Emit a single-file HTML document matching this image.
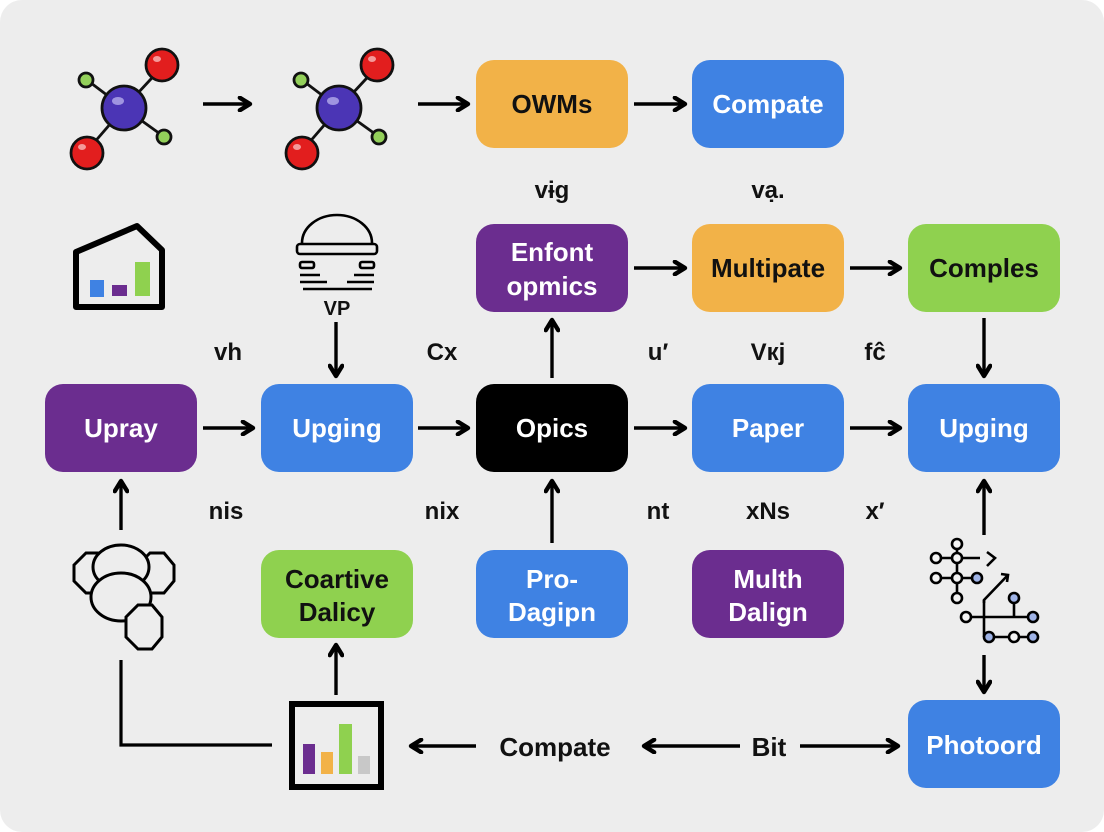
<!DOCTYPE html>
<html><head><meta charset="utf-8"><style>
html,body{margin:0;padding:0;background:#fff;}
svg{display:block;}
text{font-family:"Liberation Sans","DejaVu Sans",sans-serif;font-weight:bold;}
</style></head><body>
<svg width="1104" height="832" viewBox="0 0 1104 832" xmlns="http://www.w3.org/2000/svg">
<defs>
<marker id="ah" viewBox="0 0 10 10" refX="8" refY="5" markerWidth="4.6" markerHeight="4.6" orient="auto-start-reverse">
<path d="M1.5,1 L8,5 L1.5,9" fill="none" stroke="#000" stroke-width="2.8" stroke-linecap="round" stroke-linejoin="round"/>
</marker>
</defs>
<rect x="0" y="0" width="1104" height="832" rx="22" fill="#ededed"/>
<g stroke="#000" stroke-width="3.4" fill="none" marker-end="url(#ah)">
<line x1="203" y1="104" x2="250" y2="104"/>
<line x1="418" y1="104" x2="468" y2="104"/>
<line x1="634" y1="104" x2="685" y2="104"/>
<line x1="634" y1="268" x2="685" y2="268"/>
<line x1="850" y1="268" x2="900" y2="268"/>
<line x1="984" y1="318" x2="984" y2="376"/>
<line x1="336" y1="322" x2="336" y2="376"/>
<line x1="203" y1="428" x2="253" y2="428"/>
<line x1="418" y1="428" x2="468" y2="428"/>
<line x1="634" y1="428" x2="685" y2="428"/>
<line x1="850" y1="428" x2="900" y2="428"/>
<line x1="552" y1="378" x2="552" y2="320"/>
<line x1="552" y1="543" x2="552" y2="481"/>
<line x1="984" y1="535" x2="984" y2="481"/>
<line x1="984" y1="655" x2="984" y2="692"/>
<line x1="121" y1="530" x2="121" y2="481"/>
<line x1="336" y1="695" x2="336" y2="645"/>
<line x1="476" y1="746" x2="411" y2="746"/>
<line x1="740" y1="746" x2="644" y2="746"/>
<line x1="800" y1="746" x2="898" y2="746"/>
</g>
<polyline points="121,660 121,745 272,745" stroke="#000" stroke-width="3.2" fill="none"/>
<g>
<rect x="476" y="60" width="152" height="88" rx="18" fill="#f2b248"/>
<rect x="692" y="60" width="152" height="88" rx="18" fill="#3f82e3"/>
<rect x="476" y="224" width="152" height="88" rx="18" fill="#6b2d8f"/>
<rect x="692" y="224" width="152" height="88" rx="18" fill="#f2b248"/>
<rect x="908" y="224" width="152" height="88" rx="18" fill="#8fd14f"/>
<rect x="45" y="384" width="152" height="88" rx="18" fill="#6b2d8f"/>
<rect x="261" y="384" width="152" height="88" rx="18" fill="#3f82e3"/>
<rect x="476" y="384" width="152" height="88" rx="18" fill="#000"/>
<rect x="692" y="384" width="152" height="88" rx="18" fill="#3f82e3"/>
<rect x="908" y="384" width="152" height="88" rx="18" fill="#3f82e3"/>
<rect x="261" y="550" width="152" height="88" rx="18" fill="#8fd14f"/>
<rect x="476" y="550" width="152" height="88" rx="18" fill="#3f82e3"/>
<rect x="692" y="550" width="152" height="88" rx="18" fill="#6b2d8f"/>
<rect x="908" y="700" width="152" height="88" rx="18" fill="#3f82e3"/>
</g>
<g font-size="26" text-anchor="middle">
<text x="552" y="113" fill="#111">OWMs</text>
<text x="768" y="113" fill="#fff">Compate</text>
<text x="552" y="261" fill="#fff">Enfont</text>
<text x="552" y="295" fill="#fff">opmics</text>
<text x="768" y="277" fill="#111">Multipate</text>
<text x="984" y="277" fill="#111">Comples</text>
<text x="121" y="437" fill="#fff">Upray</text>
<text x="337" y="437" fill="#fff">Upging</text>
<text x="552" y="437" fill="#fff">Opics</text>
<text x="768" y="437" fill="#fff">Paper</text>
<text x="984" y="437" fill="#fff">Upging</text>
<text x="337" y="588" fill="#111">Coartive</text>
<text x="337" y="621" fill="#111">Dalicy</text>
<text x="552" y="588" fill="#fff">Pro-</text>
<text x="552" y="621" fill="#fff">Dagipn</text>
<text x="768" y="588" fill="#fff">Multh</text>
<text x="768" y="621" fill="#fff">Dalign</text>
<text x="984" y="754" fill="#fff">Photoord</text>
<text x="555" y="756" fill="#111">Compate</text>
<text x="769" y="756" fill="#111">Bit</text>
</g>
<g font-size="24" text-anchor="middle" fill="#111">
<text x="552" y="198">vɨg</text>
<text x="768" y="198">vạ.</text>
<text x="228" y="360">vh</text>
<text x="442" y="360">Cx</text>
<text x="658" y="360">u′</text>
<text x="768" y="360">Vкj</text>
<text x="875" y="360">fĉ</text>
<text x="226" y="519">nis</text>
<text x="442" y="519">nix</text>
<text x="658" y="519">nt</text>
<text x="768" y="519">xNs</text>
<text x="875" y="519">x′</text>
<text x="337" y="315" font-size="20">VP</text>
</g>
<g id="mol" stroke="#111" stroke-width="2.8">
<line x1="124" y1="108" x2="87" y2="80"/><line x1="124" y1="108" x2="163" y2="66"/>
<line x1="124" y1="108" x2="86" y2="152"/><line x1="124" y1="108" x2="163" y2="136"/>
<circle cx="124" cy="108" r="22" fill="#4b35b5"/>
<circle cx="162" cy="65" r="16" fill="#e21e1e"/>
<circle cx="87" cy="153" r="16" fill="#e21e1e"/>
<circle cx="86" cy="80" r="7" fill="#93d05a"/>
<circle cx="164" cy="137" r="7" fill="#93d05a"/>
<ellipse cx="118" cy="101" rx="6" ry="4" fill="#9f94e0" stroke="none"/>
<ellipse cx="157" cy="59" rx="4" ry="3" fill="#f49a9a" stroke="none"/>
<ellipse cx="82" cy="147" rx="4" ry="3" fill="#f49a9a" stroke="none"/>
</g>
<use href="#mol" x="215" y="0"/>
<path d="M76,252 L137,226 L162,250 L162,307 L76,307 Z" fill="none" stroke="#000" stroke-width="6" stroke-linejoin="round"/>
<rect x="90" y="280" width="14" height="17" fill="#3f82e3"/>
<rect x="112" y="285" width="15" height="11" fill="#6b2d8f"/>
<rect x="135" y="262" width="15" height="34" fill="#8fd14f"/>
<g stroke="#000" stroke-width="2.6" fill="none">
<path d="M302,243 A35,28 0 0 1 372,243"/>
<rect x="297" y="244" width="80" height="10" rx="3"/>
<rect x="300" y="262" width="14" height="6" rx="2"/><rect x="360" y="262" width="14" height="6" rx="2"/>
<line x1="300" y1="275" x2="320" y2="275"/><line x1="354" y1="275" x2="374" y2="275"/>
<line x1="300" y1="282" x2="327" y2="282"/><line x1="347" y1="282" x2="374" y2="282"/>
<line x1="303" y1="289" x2="372" y2="289"/>
</g>
<g stroke="#000" stroke-width="3" fill="#ededed">
<polygon points="74,565 86,553 100,553 112,565 112,581 100,593 86,593 74,581"/>
<polygon points="138,565 150,553 164,553 174,565 174,581 164,593 150,593 138,581"/>
<ellipse cx="121" cy="567" rx="28" ry="22"/>
<ellipse cx="121" cy="597" rx="30" ry="24"/>
<polygon points="126,617 138,605 152,605 162,617 162,637 152,649 138,649 126,637"/>
</g>
<rect x="292" y="704" width="89" height="83" fill="#ededed" stroke="#000" stroke-width="6"/>
<rect x="303" y="744" width="12" height="30" fill="#6b2d8f"/>
<rect x="321" y="752" width="12" height="22" fill="#f2b248"/>
<rect x="339" y="724" width="13" height="50" fill="#8fd14f"/>
<rect x="358" y="756" width="12" height="18" fill="#c8c8c8"/>
<g stroke="#000" stroke-width="2.6" fill="#f4f4f4">
<line x1="935" y1="558" x2="980" y2="558"/><line x1="935" y1="578" x2="977" y2="578"/>
<line x1="957" y1="544" x2="957" y2="598"/>
<polyline points="987,552 995,558 987,566" fill="none"/>
<polyline points="984,603 984,600 1008,575" fill="none"/>
<polyline points="1001,574 1008,575 1007,582" fill="none"/>
<line x1="984" y1="600" x2="984" y2="637"/>
<line x1="966" y1="617" x2="1033" y2="617"/>
<line x1="989" y1="637" x2="1033" y2="637"/>
<line x1="1014" y1="598" x2="1014" y2="617"/>
<circle cx="957" cy="544" r="5"/><circle cx="936" cy="558" r="5"/><circle cx="957" cy="558" r="5"/>
<circle cx="936" cy="578" r="5"/><circle cx="957" cy="578" r="5"/><circle cx="977" cy="578" r="5" fill="#9fb3e6"/>
<circle cx="957" cy="598" r="5"/>
<circle cx="1014" cy="598" r="5" fill="#9fb3e6"/><circle cx="966" cy="617" r="5"/><circle cx="1033" cy="617" r="5" fill="#9fb3e6"/>
<circle cx="989" cy="637" r="5" fill="#9fb3e6"/><circle cx="1014" cy="637" r="5"/><circle cx="1033" cy="637" r="5" fill="#9fb3e6"/>
</g>
</svg>
</body></html>
